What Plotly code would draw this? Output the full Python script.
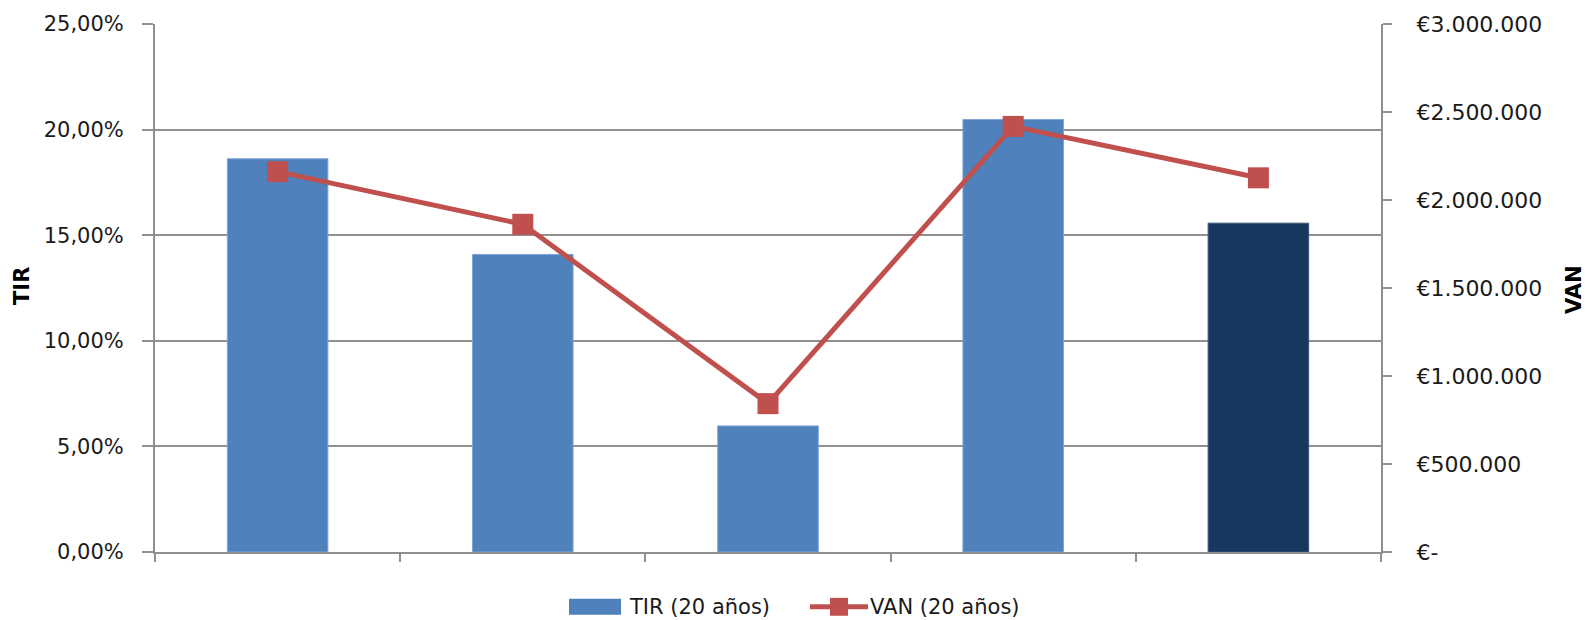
import plotly.graph_objects as go

# Series data
categories = ["Opción 1", "Opción 2", "Opción 3", "Opción 4", "Opción 5"]
tir_values = [0.1862, 0.1409, 0.0597, 0.2048, 0.1557]          # TIR (20 años)
van_values = [2161000, 1862000, 843000, 2418000, 2126000]      # VAN (20 años), €
bar_colors = ["#4F81BD", "#4F81BD", "#4F81BD", "#4F81BD", "#17375E"]
bar_edges = ["#7FA3D3", "#7FA3D3", "#7FA3D3", "#7FA3D3", "#3C5678"]

# Axis ticks
tir_tickvals = [0, 0.05, 0.10, 0.15, 0.20, 0.25]
tir_ticktext = ["0,00%", "5,00%", "10,00%", "15,00%", "20,00%", "25,00%"]
van_tickvals = [0, 500000, 1000000, 1500000, 2000000, 2500000, 3000000]
van_ticktext = ["€-", "€500.000", "€1.000.000", "€1.500.000",
                "€2.000.000", "€2.500.000", "€3.000.000"]

legend_labels = ["TIR (20 años)", "VAN (20 años)"]

W, H = 1587, 620
ML, MR, MT, MB = 155, 206, 22, 68
PW, PH = W - ML - MR, H - MT - MB

FONT = "DejaVu Sans"
TXT = "#1a1a1a"
GRID = "#909090"
RED = "#C0504D"


def px_x(x):
    return (x - ML) / PW


def px_y(y):
    return (H - MB - y) / PH


fig = go.Figure()

fig.add_trace(go.Bar(
    x=categories, y=tir_values, name=legend_labels[0],
    marker=dict(color=bar_colors, line=dict(color=bar_edges, width=1)),
    yaxis="y", showlegend=False,
))

fig.add_trace(go.Scatter(
    x=categories, y=van_values, name=legend_labels[1],
    mode="lines+markers",
    line=dict(color=RED, width=5),
    marker=dict(symbol="square", size=21, color=RED),
    yaxis="y2", showlegend=False,
))

fig.update_layout(
    width=W, height=H, autosize=False,
    margin=dict(l=ML, r=MR, t=MT, b=MB),
    paper_bgcolor="white", plot_bgcolor="white",
    bargap=0.59,
    font=dict(family=FONT, size=21, color=TXT),
    xaxis=dict(
        type="category", showticklabels=False, tickson="boundaries",
        ticks="outside", ticklen=8, tickwidth=1.5, tickcolor=GRID,
        showgrid=False, showline=True, linecolor=GRID, linewidth=2,
        zeroline=False,
    ),
    yaxis=dict(
        range=[0, 0.25], tickvals=tir_tickvals, ticktext=tir_ticktext,
        ticks="outside", ticklen=11, tickwidth=1.5, tickcolor=GRID,
        ticklabelstandoff=14,
        showgrid=True, gridcolor=GRID, gridwidth=2,
        showline=True, linecolor=GRID, linewidth=2, zeroline=False,
        tickfont=dict(family=FONT, size=21, color=TXT),
    ),
    yaxis2=dict(
        range=[0, 3000000], tickvals=van_tickvals, ticktext=van_ticktext,
        overlaying="y", side="right",
        ticks="outside", ticklen=9, tickwidth=1.5, tickcolor=GRID,
        ticklabelstandoff=20,
        showgrid=False, showline=True, linecolor=GRID, linewidth=2,
        zeroline=False,
        tickfont=dict(family=FONT, size=22, color=TXT),
    ),
)

# Axis titles
fig.add_annotation(text="<b>TIR</b>", xref="paper", yref="paper",
                   x=px_x(22), y=px_y(285), textangle=-90, showarrow=False,
                   xanchor="center", yanchor="middle",
                   font=dict(family=FONT, size=21, color="#000000"))
fig.add_annotation(text="<b>VAN</b>", xref="paper", yref="paper",
                   x=px_x(1574), y=px_y(289), textangle=-90, showarrow=False,
                   xanchor="center", yanchor="middle",
                   font=dict(family=FONT, size=21, color="#000000"))

# Legend below the plot
ly = 607
fig.add_shape(type="rect", xref="paper", yref="paper",
              x0=px_x(569), x1=px_x(621), y0=px_y(615), y1=px_y(599),
              fillcolor="#4F81BD", line=dict(width=0))
fig.add_annotation(text=legend_labels[0], xref="paper", yref="paper",
                   x=px_x(627), y=px_y(ly), showarrow=False,
                   xanchor="left", yanchor="middle",
                   font=dict(family=FONT, size=21, color=TXT))
fig.add_shape(type="line", xref="paper", yref="paper",
              x0=px_x(810), x1=px_x(868), y0=px_y(ly), y1=px_y(ly),
              line=dict(color=RED, width=5))
fig.add_shape(type="rect", xref="paper", yref="paper",
              x0=px_x(830), x1=px_x(848), y0=px_y(616), y1=px_y(598),
              fillcolor=RED, line=dict(width=0))
fig.add_annotation(text=legend_labels[1], xref="paper", yref="paper",
                   x=px_x(868), y=px_y(ly), showarrow=False,
                   xanchor="left", yanchor="middle",
                   font=dict(family=FONT, size=21, color=TXT))

fig.write_html("out.html")
